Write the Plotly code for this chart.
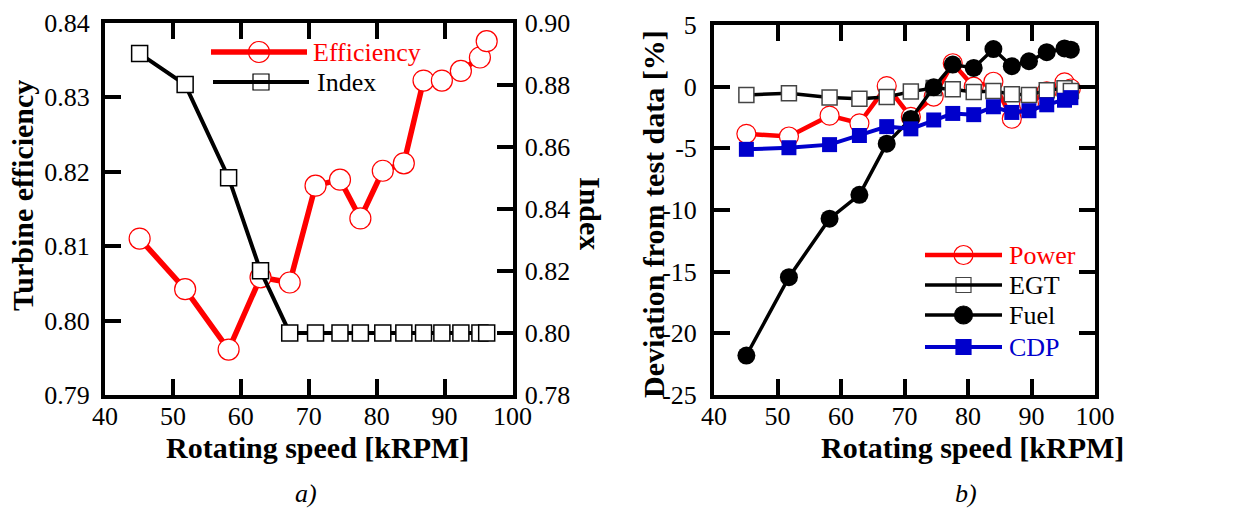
import plotly.graph_objects as go

W, H = 1241, 511

# ---- data ----------------------------------------------------------------
speed = [45.1, 51.8, 58.2, 62.9, 67.2, 71.0, 74.6, 77.6, 80.9, 84.0,
         86.9, 89.6, 92.4, 95.2, 96.2]

efficiency = [0.8110, 0.8042, 0.7961, 0.8058, 0.8051, 0.8181, 0.8189, 0.8137,
              0.8201, 0.8211, 0.8322, 0.8322, 0.8335, 0.8353, 0.8375]
index = [0.890, 0.880, 0.850, 0.820, 0.800, 0.800, 0.800, 0.800,
         0.800, 0.800, 0.800, 0.800, 0.800, 0.800, 0.800]

power = [-3.82, -4.04, -2.35, -2.97, 0.05, -2.45, -0.80, 1.90,
         0.00, 0.40, -2.60, -1.40, -0.38, 0.35, -0.15]
egt = [-0.67, -0.53, -0.88, -0.97, -0.83, -0.40, -0.10, -0.21,
       -0.43, -0.35, -0.61, -0.67, -0.30, -0.13, -0.35]
fuel = [-21.8, -15.45, -10.7, -8.77, -4.62, -2.62, -0.05, 1.79,
        1.52, 3.05, 1.66, 2.06, 2.80, 3.10, 3.00]
cdp = [-5.08, -4.95, -4.70, -3.96, -3.24, -3.42, -2.70, -2.17,
       -2.27, -1.63, -2.09, -1.95, -1.47, -1.10, -0.89]

x_ticks = [40, 50, 60, 70, 80, 90, 100]
dev_ticks = [-25, -20, -15, -10, -5, 0, 5]
dev_tick_text = ["-25", "-20", "-15", "-10", "-5", "0", "5"]

RED = "#FF0000"
BLUE = "#0000CC"
FONT = "Liberation Serif"


def px(x):
    return x / W


def py(y):
    return 1 - y / H


fig = go.Figure()

# ---- panel a ----------------------------------------------------------------
fig.add_trace(go.Scatter(
    x=speed, y=efficiency, xaxis="x", yaxis="y", mode="lines+markers",
    line=dict(color=RED, width=5.5),
    marker=dict(symbol="circle", size=21, color="white",
                line=dict(color=RED, width=1.2)),
    showlegend=False, cliponaxis=False))
fig.add_trace(go.Scatter(
    x=speed, y=index, xaxis="x", yaxis="y2", mode="lines+markers",
    line=dict(color="black", width=4),
    marker=dict(symbol="square", size=16, color="white",
                line=dict(color="black", width=1.5)),
    showlegend=False, cliponaxis=False))

# ---- panel b ----------------------------------------------------------------
fig.add_trace(go.Scatter(
    x=speed, y=power, xaxis="x2", yaxis="y3", mode="lines+markers",
    line=dict(color=RED, width=4.5),
    marker=dict(symbol="circle", size=19, color="white",
                line=dict(color=RED, width=1.2)),
    showlegend=False, cliponaxis=False))
fig.add_trace(go.Scatter(
    x=speed, y=egt, xaxis="x2", yaxis="y3", mode="lines+markers",
    line=dict(color="black", width=3.5),
    marker=dict(symbol="square", size=15, color="white",
                line=dict(color="#444444", width=1.5)),
    showlegend=False, cliponaxis=False))
fig.add_trace(go.Scatter(
    x=speed, y=fuel, xaxis="x2", yaxis="y3", mode="lines+markers",
    line=dict(color="black", width=3.5),
    marker=dict(symbol="circle", size=18, color="black",
                line=dict(color="black", width=0)),
    showlegend=False, cliponaxis=False))
fig.add_trace(go.Scatter(
    x=speed, y=cdp, xaxis="x2", yaxis="y3", mode="lines+markers",
    line=dict(color=BLUE, width=4),
    marker=dict(symbol="square", size=15, color=BLUE,
                line=dict(color=BLUE, width=0)),
    showlegend=False, cliponaxis=False))


# ---- hand-drawn legends (long key lines) -----------------------------------
def legend_key(x0, x1, y, label, color, mcolor, mline, symbol, msize, lwidth,
               tcolor, tx):
    fig.add_shape(type="line", xref="paper", yref="paper",
                  x0=px(x0), x1=px(x1), y0=py(y), y1=py(y),
                  line=dict(color=color, width=lwidth), layer="above")
    fig.add_trace(go.Scatter(
        x=[px((x0 + x1) / 2)], y=[py(y)], xaxis="x3", yaxis="y4",
        mode="markers",
        marker=dict(symbol=symbol, size=msize, color=mcolor,
                    line=dict(color=mline, width=1.2)),
        showlegend=False, hoverinfo="skip", cliponaxis=False))
    fig.add_annotation(x=px(tx), y=py(y), xref="paper", yref="paper",
                       text=label, showarrow=False, xanchor="left",
                       yanchor="middle",
                       font=dict(family=FONT, size=26, color=tcolor))


legend_key(211, 307, 52, "Efficiency", RED, "white", RED, "circle", 21, 5.5,
           RED, 311)
legend_key(213, 309, 82, "Index", "black", "white", "black", "square", 16, 4,
           "black", 315)

legend_key(925, 1002, 255, "Power", RED, "white", RED, "circle", 19, 4.5,
           RED, 1007)
legend_key(925, 1002, 285, "EGT", "black", "white", "#444444", "square", 15,
           3.5, "black", 1007)
legend_key(925, 1002, 315, "Fuel", "black", "black", "black", "circle", 18,
           3.5, "black", 1007)
legend_key(925, 1002, 347, "CDP", BLUE, BLUE, BLUE, "square", 15, 4,
           BLUE, 1007)

# ---- axes -------------------------------------------------------------------
tickfont = dict(family=FONT, size=26, color="black")
common = dict(showline=True, linewidth=4, linecolor="black", ticks="inside",
              ticklen=16, tickwidth=4, tickcolor="black", showgrid=False,
              zeroline=False, tickfont=tickfont, automargin=False)

ax_a = [105, 512.5]
ay_a = [22.5, 395]
ax_b = [714, 1095]
ay_b = [25, 395]

fig.update_layout(
    template="none",
    xaxis=dict(domain=[px(ax_a[0]), px(ax_a[1])], range=[40, 100],
               tickvals=x_ticks, anchor="y", mirror="ticks",
               ticklabelstandoff=-5, **common),
    yaxis=dict(domain=[py(ay_a[1]), py(ay_a[0])], range=[0.79, 0.84],
               dtick=0.01, tickformat=".2f", anchor="x", mirror=True,
               ticklabelstandoff=6, **common),
    yaxis2=dict(domain=[py(ay_a[1]), py(ay_a[0])], range=[0.78, 0.90],
                dtick=0.02, tickformat=".2f", anchor="x", overlaying="y",
                side="right", ticklabelstandoff=3, **common),
    xaxis2=dict(domain=[px(ax_b[0]), px(ax_b[1])], range=[40, 100],
                tickvals=x_ticks, anchor="y3", mirror="ticks",
                ticklabelstandoff=-5, **common),
    yaxis3=dict(domain=[py(ay_b[1]), py(ay_b[0])], range=[-25, 5],
                tickvals=dev_ticks, ticktext=dev_tick_text, anchor="x2",
                mirror="ticks", ticklabelstandoff=8, **common),
    xaxis3=dict(domain=[0, 1], range=[0, 1], visible=False, anchor="y4",
                automargin=False),
    yaxis4=dict(domain=[0, 1], range=[0, 1], visible=False, anchor="x3",
                automargin=False),
)

# ---- titles -----------------------------------------------------------------
bold = dict(family=FONT, size=30, color="black", weight="bold")
titles = [
    ("Rotating speed [kRPM]", 317, 447, 0),
    ("Rotating speed [kRPM]", 972, 447, 0),
    ("Turbine efficiency", 22, 196, -90),
    ("Index", 590, 213, 90),
    ("Deviation from test data [%]", 653, 214, -90),
]
for text, x, y, ang in titles:
    fig.add_annotation(x=px(x), y=py(y), xref="paper", yref="paper",
                       text=f"<b>{text}</b>", showarrow=False, textangle=ang,
                       xanchor="center", yanchor="middle", font=bold)

for text, x in [("a)", 306), ("b)", 966)]:
    fig.add_annotation(x=px(x), y=py(493), xref="paper", yref="paper",
                       text=f"<i>{text}</i>", showarrow=False,
                       xanchor="center", yanchor="middle",
                       font=dict(family=FONT, size=26, color="black"))

fig.update_layout(
    width=W, height=H, autosize=False,
    margin=dict(l=0, r=0, t=0, b=0, pad=0, autoexpand=False),
    paper_bgcolor="white", plot_bgcolor="rgba(0,0,0,0)",
    showlegend=False,
    font=dict(family=FONT, color="black"),
)

fig.write_html("out.html")
